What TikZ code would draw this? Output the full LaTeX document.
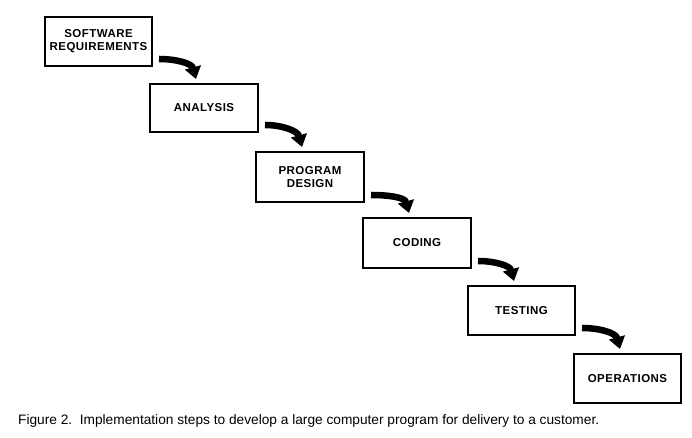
\documentclass[tikz,border=0pt]{standalone}
\usepackage{fontspec}
\setmainfont{Liberation Sans}
\newfontfamily\boxfont[LetterSpace=4]{Liberation Sans}
\usetikzlibrary{arrows.meta,calc}
\begin{document}
\begin{tikzpicture}[x=1pt,y=1pt,
  stepbox/.style={draw=black,line width=2pt,minimum width=107pt,minimum height=49pt,
    inner sep=1pt,align=center,font=\boxfont\fontsize{11.5}{13}\selectfont\bfseries},
  flow/.style={line width=6.5pt,-{Triangle[length=12pt,width=16pt]}}]
\useasboundingbox (0,0) rectangle (692,438);
\node[stepbox] (req) at (98.5,396.5) {SOFTWARE\\REQUIREMENTS};
\node[stepbox,minimum width=108pt,minimum height=48pt] (ana) at (204,330) {ANALYSIS};
\node[stepbox,minimum width=108pt,minimum height=50pt] (des) at (310,261) {PROGRAM\\DESIGN};
\node[stepbox,minimum width=108pt,minimum height=50pt] (cod) at (417,195) {CODING};
\node[stepbox] (tes) at (521.5,127.5) {TESTING};
\node[stepbox] (ops) at (627.5,59.5) {OPERATIONS};
\foreach \a/\b [count=\i] in {req/ana,ana/des,des/cod,cod/tes,tes/ops}{
  \coordinate (t\i) at ($(\a.south east)+(6,8)$);
  \coordinate (h\i) at ($(\b.north west)+(47,4)$);
  \draw[flow] (t\i) to[out=0,in=105] (h\i);
}
\node[anchor=west,inner sep=0pt,font=\fontsize{13.7}{15}\selectfont] (cap) at (18,17)
  {Figure 2.\ \ Implementation steps to develop a large computer program for delivery to a customer.};
\end{tikzpicture}
\end{document}
